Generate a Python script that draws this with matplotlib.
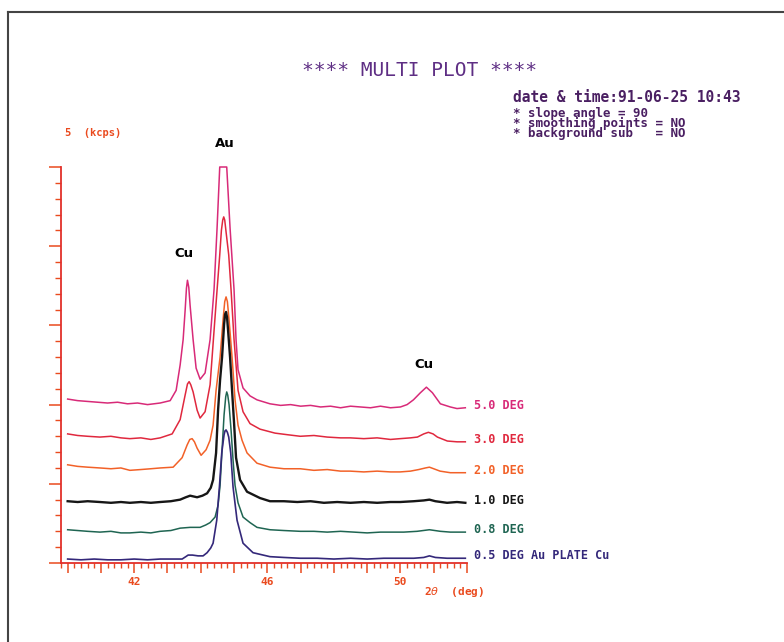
import matplotlib
matplotlib.use('Agg')
import matplotlib.pyplot as plt
from matplotlib.ticker import MultipleLocator, FuncFormatter
from matplotlib.lines import Line2D

# 2theta (deg) / intensity (kcps), one pair per tilt angle
x_50 = [40.0, 40.3, 40.6, 40.9, 41.2, 41.5, 41.8, 42.1, 42.4, 42.78, 43.08, 43.26, 43.38, 43.47, 43.53,
        43.57, 43.60, 43.64, 43.68, 43.77, 43.86, 43.98, 44.13, 44.28, 44.40, 44.49, 44.57, 44.78, 44.88,
        45.00, 45.06, 45.12, 45.27, 45.48, 45.69, 46.08, 46.4, 46.7, 47.0, 47.3, 47.6, 47.9, 48.2, 48.5,
        48.8, 49.1, 49.4, 49.7, 50.0, 50.2, 50.39, 50.6, 50.78, 50.96, 51.2, 51.5, 51.7, 51.95]
y_50 = [2.07, 2.05, 2.04, 2.03, 2.02, 2.03, 2.01, 2.02, 2.00, 2.02, 2.05, 2.18, 2.50, 2.82, 3.19,
        3.47, 3.57, 3.48, 3.25, 2.82, 2.46, 2.32, 2.40, 2.82, 3.46, 4.23, 5.00, 5.00, 4.23,
        3.45, 2.82, 2.44, 2.21, 2.11, 2.06, 2.01, 1.99, 2.00, 1.98, 1.99, 1.97, 1.98, 1.96, 1.98,
        1.97, 1.96, 1.98, 1.96, 1.97, 2.00, 2.06, 2.15, 2.22, 2.15, 2.01, 1.97, 1.95, 1.96]

x_30 = [40.0, 40.3, 40.6, 40.97, 41.3, 41.6, 41.87, 42.2, 42.5, 42.78, 43.14, 43.38, 43.53, 43.60, 43.65,
        43.70, 43.77, 43.89, 43.98, 44.13, 44.28, 44.40, 44.49, 44.57, 44.62, 44.66, 44.69, 44.72, 44.76,
        44.84, 44.91, 45.00, 45.12, 45.27, 45.48, 45.78, 46.23, 46.6, 46.99, 47.4, 47.8, 48.2, 48.49,
        48.9, 49.3, 49.7, 49.99, 50.30, 50.51, 50.70, 50.84, 50.98, 51.11, 51.41, 51.7, 51.95]
y_30 = [1.63, 1.61, 1.60, 1.59, 1.60, 1.58, 1.57, 1.58, 1.56, 1.58, 1.63, 1.81, 2.12, 2.26, 2.29,
        2.25, 2.16, 1.93, 1.83, 1.91, 2.25, 2.94, 3.45, 3.89, 4.20, 4.33, 4.37, 4.33, 4.18,
        3.89, 3.45, 2.82, 2.18, 1.91, 1.76, 1.69, 1.64, 1.62, 1.60, 1.61, 1.59, 1.58, 1.58,
        1.57, 1.58, 1.56, 1.57, 1.58, 1.59, 1.63, 1.65, 1.63, 1.59, 1.54, 1.53, 1.53]

x_20 = [40.0, 40.3, 40.6, 40.97, 41.3, 41.6, 41.87, 42.2, 42.5, 42.78, 43.17, 43.44, 43.59, 43.67, 43.74,
        43.81, 43.89, 44.01, 44.16, 44.28, 44.37, 44.46, 44.58, 44.67, 44.72, 44.76, 44.80, 44.85, 44.94,
        45.03, 45.12, 45.24, 45.39, 45.69, 46.08, 46.5, 46.99, 47.4, 47.8, 48.2, 48.49, 48.9, 49.3,
        49.7, 49.99, 50.30, 50.55, 50.75, 50.87, 51.0, 51.19, 51.5, 51.7, 51.95]
y_20 = [1.24, 1.22, 1.21, 1.20, 1.19, 1.20, 1.17, 1.18, 1.19, 1.20, 1.21, 1.33, 1.49, 1.56, 1.57,
        1.53, 1.45, 1.36, 1.43, 1.55, 1.74, 2.18, 2.60, 3.07, 3.30, 3.36, 3.30, 3.07, 2.60,
        2.06, 1.74, 1.55, 1.39, 1.26, 1.21, 1.19, 1.19, 1.17, 1.18, 1.16, 1.16, 1.15, 1.16,
        1.15, 1.15, 1.16, 1.18, 1.20, 1.21, 1.19, 1.16, 1.14, 1.14, 1.14]

x_10 = [40.0, 40.3, 40.6, 40.97, 41.3, 41.6, 41.87, 42.2, 42.5, 42.78, 43.1, 43.38, 43.55, 43.68, 43.89,
        44.05, 44.19, 44.30, 44.37, 44.46, 44.52, 44.58, 44.64, 44.70, 44.73, 44.76, 44.79, 44.82,
        44.88, 44.94, 45.00, 45.06, 45.18, 45.39, 45.78, 46.08, 46.5, 46.9, 47.3, 47.7, 48.1, 48.5,
        48.9, 49.3, 49.7, 49.99, 50.4, 50.7, 50.87, 51.05, 51.4, 51.7, 51.95]
y_10 = [0.78, 0.77, 0.78, 0.77, 0.76, 0.77, 0.76, 0.77, 0.76, 0.77, 0.78, 0.80, 0.83, 0.85, 0.83,
        0.85, 0.88, 0.95, 1.05, 1.39, 1.93, 2.31, 2.60, 3.01, 3.14, 3.17, 3.10, 2.94,
        2.60, 2.18, 1.77, 1.33, 1.05, 0.90, 0.82, 0.78, 0.78, 0.77, 0.78, 0.76, 0.77, 0.76,
        0.77, 0.76, 0.77, 0.77, 0.78, 0.79, 0.80, 0.78, 0.76, 0.77, 0.76]

x_08 = [40.0, 40.3, 40.6, 40.97, 41.3, 41.6, 41.87, 42.2, 42.5, 42.78, 43.1, 43.38, 43.68, 43.98, 44.15,
        44.28, 44.43, 44.52, 44.58, 44.64, 44.70, 44.75, 44.78, 44.81, 44.85, 44.91, 44.97, 45.03,
        45.12, 45.27, 45.48, 45.69, 46.08, 46.5, 46.99, 47.4, 47.8, 48.2, 48.6, 49.0, 49.4, 49.8,
        50.1, 50.5, 50.87, 51.2, 51.5, 51.95]
y_08 = [0.42, 0.41, 0.40, 0.39, 0.40, 0.38, 0.38, 0.39, 0.38, 0.40, 0.41, 0.44, 0.45, 0.45, 0.48,
        0.51, 0.58, 0.73, 0.98, 1.43, 1.87, 2.10, 2.16, 2.12, 2.00, 1.68, 1.30, 0.98,
        0.76, 0.58, 0.51, 0.45, 0.42, 0.41, 0.40, 0.40, 0.39, 0.40, 0.39, 0.38, 0.39, 0.39,
        0.39, 0.40, 0.42, 0.40, 0.39, 0.39]

x_05 = [40.0, 40.4, 40.8, 41.2, 41.6, 42.0, 42.4, 42.78, 43.1, 43.44, 43.55, 43.62, 43.75, 43.92, 44.07,
        44.19, 44.30, 44.37, 44.48, 44.56, 44.63, 44.70, 44.73, 44.76, 44.80, 44.84, 44.90, 44.97,
        45.09, 45.27, 45.57, 46.08, 46.5, 46.99, 47.5, 48.0, 48.5, 49.0, 49.5, 50.0, 50.4, 50.7,
        50.87, 51.05, 51.4, 51.95]
y_05 = [0.05, 0.04, 0.05, 0.04, 0.04, 0.05, 0.04, 0.05, 0.05, 0.05, 0.08, 0.10, 0.10, 0.09, 0.09,
        0.13, 0.19, 0.25, 0.54, 0.96, 1.39, 1.62, 1.67, 1.68, 1.65, 1.59, 1.39, 0.96,
        0.54, 0.25, 0.13, 0.08, 0.07, 0.06, 0.06, 0.05, 0.06, 0.05, 0.06, 0.06, 0.06, 0.07,
        0.09, 0.07, 0.06, 0.06]

labels = ['5.0 DEG', '3.0 DEG', '2.0 DEG', '1.0 DEG', '0.8 DEG', '0.5 DEG Au PLATE Cu']
line_colors = ['#d82a78', '#e0283e', '#f26128', '#161616', '#1f6552', '#34287a']
line_widths = [1.1, 1.1, 1.1, 1.7, 1.1, 1.2]

peak_names = ['Au', 'Cu', 'Cu']
peak_x = [44.73, 43.50, 50.72]
peak_y = [5.30, 3.91, 2.50]

info_lines = ['* slope angle = 90', '* smoothing points = NO', '* background sub   = NO']

axis_red = '#e2302a'
tick_orange = '#ea4a1e'
mono = 'DejaVu Sans Mono'


def run():
  series = [(x_50, y_50), (x_30, y_30), (x_20, y_20), (x_10, y_10), (x_08, y_08), (x_05, y_05)]

  fig = plt.figure(figsize=(7.84, 6.42), dpi=100)
  ax = fig.add_axes([61 / 784, 1 - 563 / 642, 406 / 784, 396 / 642])

  for (xs, ys), lab, c, lw in zip(series, labels, line_colors, line_widths):
    ax.plot(xs, ys, color=c, lw=lw, clip_on=False)
    ax.text(52.2, ys[-1] + 0.03, lab, color=c, fontsize=8.5, fontweight='bold',
            family=mono, ha='left', va='center')

  for name, px, py in zip(peak_names, peak_x, peak_y):
    ax.text(px, py, name, color='black', fontsize=9.5, fontweight='bold', ha='center', va='center')

  ax.set_xlim(39.8, 52.0)
  ax.set_ylim(0, 5)
  for s in ['top', 'right']:
    ax.spines[s].set_visible(False)
  for s in ['left', 'bottom']:
    ax.spines[s].set_color(axis_red)
    ax.spines[s].set_linewidth(1.3)

  ax.xaxis.set_major_locator(MultipleLocator(1))
  ax.xaxis.set_minor_locator(MultipleLocator(0.2))
  ax.yaxis.set_major_locator(MultipleLocator(1))
  ax.yaxis.set_minor_locator(MultipleLocator(0.2))
  ax.xaxis.set_major_formatter(FuncFormatter(lambda v, p: '%d' % round(v) if round(v) in (42, 46, 50) else ''))
  ax.yaxis.set_major_formatter(FuncFormatter(lambda v, p: ''))
  ax.tick_params(axis='x', which='major', length=7.2, width=1.1, color=tick_orange, pad=3,
                 labelsize=8, labelcolor=tick_orange)
  ax.tick_params(axis='x', which='minor', length=3.6, width=1.0, color=tick_orange)
  ax.tick_params(axis='y', which='major', length=8.6, width=1.1, color=tick_orange)
  ax.tick_params(axis='y', which='minor', length=4.3, width=1.0, color=tick_orange)
  for t in ax.get_xticklabels():
    t.set_fontweight('bold')
    t.set_family(mono)

  fig.text(420 / 784, 1 - 70 / 642, '**** MULTI PLOT ****', color='#5e2e84', fontsize=14,
           family=mono, ha='center', va='center')
  fig.text(513 / 784, 1 - 97 / 642, 'date & time:91-06-25 10:43', color='#4a1f62', fontsize=10.5,
           fontweight='bold', family=mono, ha='left', va='center')
  fig.text(513 / 784, 1 - 107 / 642, '\n'.join(info_lines), color='#4a1f62', fontsize=9,
           fontweight='bold', family=mono, ha='left', va='top', linespacing=0.72)

  fig.text(65 / 784, 1 - 133 / 642, '5  (kcps)', color=tick_orange, fontsize=7.5,
           fontweight='bold', family=mono, ha='left', va='center')
  fig.text(424 / 784, 1 - 592 / 642, r'2$\theta$  (deg)', color=tick_orange, fontsize=8,
           fontweight='bold', family=mono, ha='left', va='center')

  # scanned page border (top and left edge only)
  fig.add_artist(Line2D([8 / 784, 1.0], [1 - 12 / 642, 1 - 12 / 642], color='#444444', lw=1.5))
  fig.add_artist(Line2D([8 / 784, 8 / 784], [1 - 12 / 642, 0.0], color='#444444', lw=1.5))

  fig.savefig('out.png', dpi=100)


run()
